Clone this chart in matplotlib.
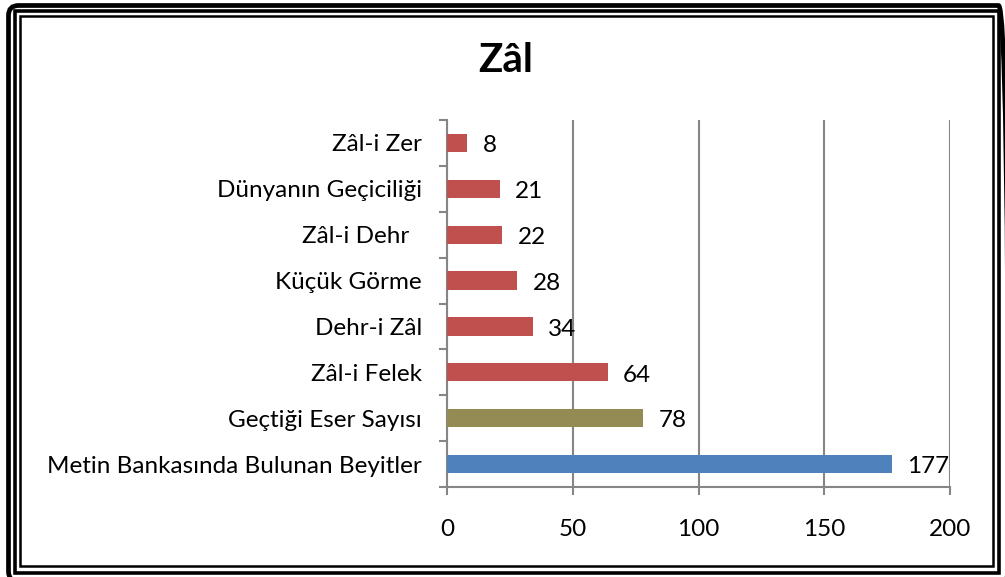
import matplotlib as mpl
import matplotlib.pyplot as plt
from matplotlib.patches import Rectangle, FancyBboxPatch
from matplotlib.transforms import IdentityTransform

mpl.rcParams['font.family'] = 'Lato'

# data, bottom to top
categories = ['Metin Bankasında Bulunan Beyitler', 'Geçtiği Eser Sayısı', 'Zâl-i Felek',
              'Dehr-i Zâl', 'Küçük Görme', 'Zâl-i Dehr  ', 'Dünyanın Geçiciliği', 'Zâl-i Zer']
values = [177, 78, 64, 34, 28, 22, 21, 8]
colors = ['#4F81BD', '#948A54', '#C0504D', '#C0504D', '#C0504D', '#C0504D', '#C0504D', '#C0504D']
xticks = [0, 50, 100, 150, 200]

W, H = 1005, 577
grey = '#868686'
fs = 17.5

fig = plt.figure(figsize=(W / 100, H / 100), dpi=100)
ax = fig.add_axes([447 / W, 1 - 487 / H, (950 - 447) / W, (487 - 120) / H])

ypos = list(range(len(categories)))
ax.barh(ypos, values, height=0.4, color=colors, zorder=3)
for y, v in zip(ypos, values):
    ax.annotate(str(v), (v, y), xytext=(11, -2), textcoords='offset points',
                va='center', ha='left', fontsize=fs, color='black')

ax.set_xlim(0, 200)
ax.set_ylim(-0.5, len(categories) - 0.5)
ax.set_xticks(xticks)
ax.set_yticks(ypos)
ax.set_yticklabels(categories)
ax.set_yticks([i - 0.5 for i in range(len(categories) + 1)], minor=True)

ax.tick_params(axis='y', which='major', length=0, pad=18, labelsize=fs)
ax.tick_params(axis='y', which='minor', length=6, width=1.5, color=grey, direction='out')
ax.tick_params(axis='x', length=6, width=1.5, color=grey, direction='out', pad=17, labelsize=fs)

ax.grid(axis='x', color=grey, linewidth=1.5, zorder=0)
for s in ['top', 'right']:
    ax.spines[s].set_visible(False)
for s in ['left', 'bottom']:
    ax.spines[s].set_color(grey)
    ax.spines[s].set_linewidth(1.5)

fig.text(506 / W, 1 - 60 / H, 'Zâl', ha='center', va='center', fontsize=29, fontweight='bold')

# triple-line frame around the chart, in pixel coords (y from top)
def frame(x0, y0, x1, y1, lw, rounding=0):
    xy = (x0, H - y1)
    w, h = x1 - x0, y1 - y0
    if rounding:
        p = FancyBboxPatch(xy, w, h, boxstyle=f'round,pad=0,rounding_size={rounding}',
                           transform=IdentityTransform(), fill=False, edgecolor='black', linewidth=lw)
    else:
        p = Rectangle(xy, w, h, transform=IdentityTransform(), fill=False,
                      edgecolor='black', linewidth=lw)
    p.set_snap(True)
    fig.patches.append(p)

frame(8, 5, 1008, 581, 3.4, rounding=10)
frame(15, 11, 999, 573, 2.6)
frame(20, 16, 993, 566, 1.8)

fig.savefig('out.png', dpi=100)
